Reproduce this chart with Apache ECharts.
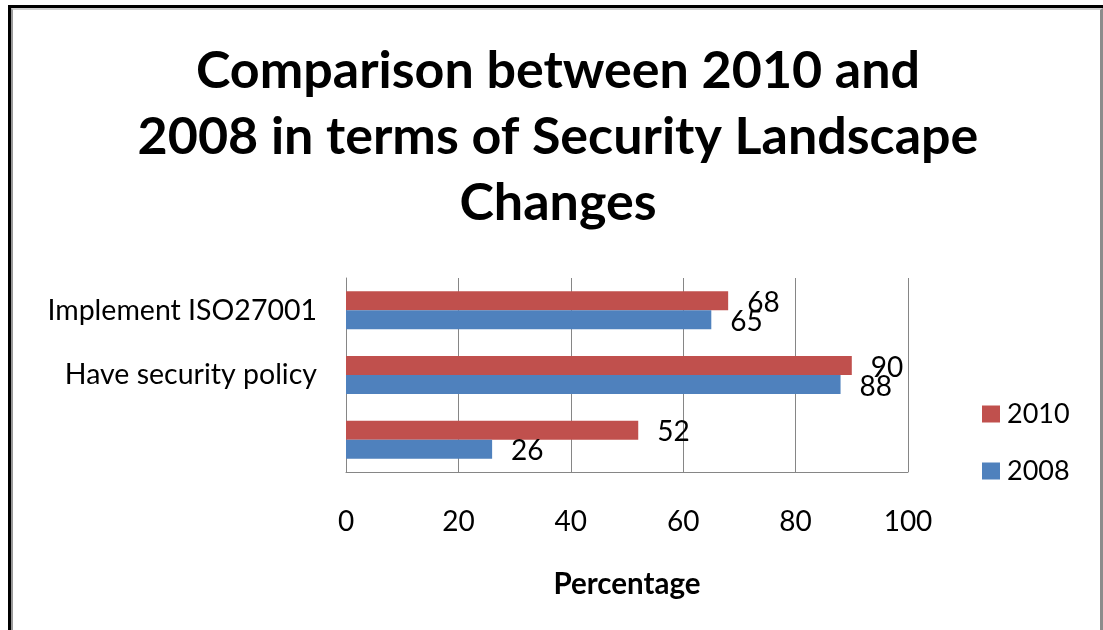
<!DOCTYPE html>
<html>
<head>
<meta charset="utf-8">
<script src="https://cdn.jsdelivr.net/npm/echarts@6/dist/echarts.min.js"></script>
<style>
  html, body { margin: 0; padding: 0; background: #fff; width: 1103px; height: 630px; overflow: hidden; }
  #frameOuter { position: absolute; left: 8px; top: 5px; width: 1200px; height: 700px; border-top: 3px solid #000; border-left: 3px solid #000; }
  #frameInner { position: absolute; left: 11px; top: 8px; width: 1087px; height: 700px; border-top: 2px solid #d0d0d0; border-left: 2px solid #9a9a9a; border-right: 3px solid #8c8c8c; }
  #chart { position: absolute; left: 0; top: 0; width: 1103px; height: 630px; }
</style>
</head>
<body>
<div id="frameOuter"></div>
<div id="frameInner"></div>
<div id="chart"></div>
<script>
const titleText = 'Comparison between 2010 and\n2008 in terms of Security Landscape\nChanges';
const categories = ['Implement ISO27001', 'Have security policy', ''];
const seriesNames = ['2010', '2008'];
const values2010 = [68, 90, 52];
const values2008 = [65, 88, 26];
const xTicks = [0, 20, 40, 60, 80, 100];
const xAxisName = 'Percentage';

const FONT = 'Lato, "Open Sans", sans-serif';
const chart = echarts.init(document.getElementById('chart'), null, { renderer: 'canvas' });

const labelCfg = {
  show: true, position: 'right', distance: 19, offset: [0, 2],
  fontFamily: FONT, fontSize: 28, color: '#000'
};

chart.setOption({
  backgroundColor: 'transparent',
  animation: false,
  title: {
    text: titleText,
    left: 553, top: 33,
    textAlign: 'center',
    textStyle: { fontFamily: FONT, fontWeight: 'bold', fontSize: 52, lineHeight: 66, color: '#000' }
  },
  legend: {
    orient: 'vertical',
    left: 977, top: 394,
    itemWidth: 18, itemHeight: 17, itemGap: 27,
    icon: 'rect',
    data: seriesNames,
    textStyle: { fontFamily: FONT, fontSize: 27, lineHeight: 30, color: '#000', padding: [0, 0, 0, 2] }
  },
  grid: { left: 346, right: 195, top: 278, bottom: 158, containLabel: false },
  xAxis: {
    type: 'value', min: xTicks[0], max: xTicks[xTicks.length - 1], interval: xTicks[1] - xTicks[0],
    name: xAxisName, nameLocation: 'middle', nameGap: 97,
    nameTextStyle: { fontFamily: FONT, fontWeight: 'bold', fontSize: 29.5, color: '#000' },
    axisLine: { show: true, lineStyle: { color: '#868686', width: 1 } },
    axisTick: { show: false },
    splitLine: { show: true, lineStyle: { color: '#868686', width: 1 } },
    axisLabel: { margin: 36, fontFamily: FONT, fontSize: 28, color: '#000' }
  },
  yAxis: {
    type: 'category', data: categories, inverse: true,
    axisLine: { show: true, lineStyle: { color: '#868686', width: 1 } },
    axisTick: { show: false },
    axisLabel: { margin: 29, fontFamily: FONT, fontSize: 28.5, color: '#000' }
  },
  series: [
    { name: seriesNames[0], type: 'bar', data: values2010, barWidth: 19, barGap: '0%',
      itemStyle: { color: '#C0504D' }, label: labelCfg },
    { name: seriesNames[1], type: 'bar', data: values2008, barWidth: 19, barGap: '0%',
      itemStyle: { color: '#4F81BD' }, label: labelCfg }
  ]
});
</script>
</body>
</html>
